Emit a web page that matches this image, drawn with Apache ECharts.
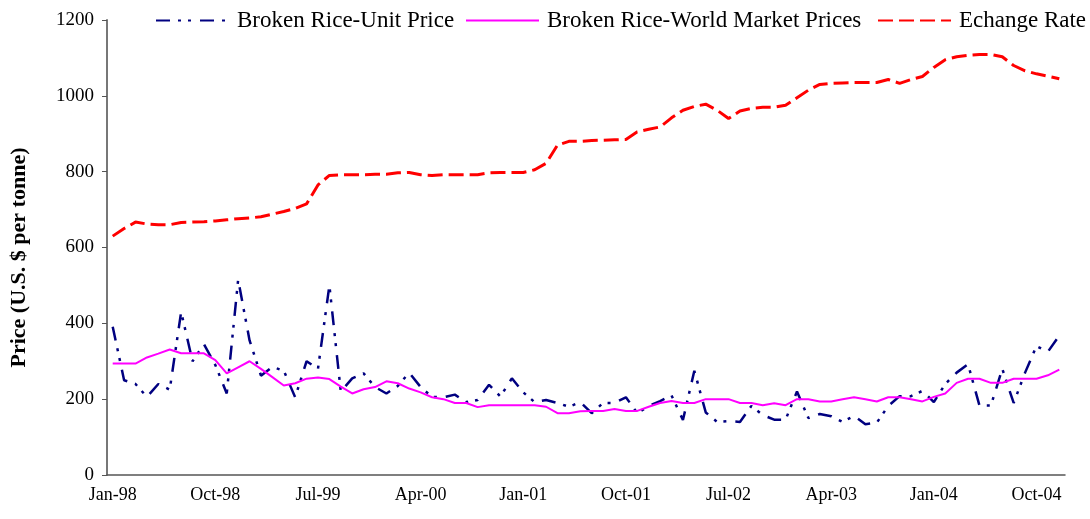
<!DOCTYPE html>
<html>
<head>
<meta charset="utf-8">
<script src="https://cdn.jsdelivr.net/npm/echarts@6/dist/echarts.min.js"></script>
<style>html,body{margin:0;padding:0;background:#fff}#c{width:1090px;height:519px}</style>
</head>
<body>
<div id="c"></div>
<script>
var months = [
 'Jan-98','Feb-98','Mar-98','Apr-98','May-98','Jun-98','Jul-98','Aug-98','Sep-98','Oct-98','Nov-98','Dec-98',
 'Jan-99','Feb-99','Mar-99','Apr-99','May-99','Jun-99','Jul-99','Aug-99','Sep-99','Oct-99','Nov-99','Dec-99',
 'Jan-00','Feb-00','Mar-00','Apr-00','May-00','Jun-00','Jul-00','Aug-00','Sep-00','Oct-00','Nov-00','Dec-00',
 'Jan-01','Feb-01','Mar-01','Apr-01','May-01','Jun-01','Jul-01','Aug-01','Sep-01','Oct-01','Nov-01','Dec-01',
 'Jan-02','Feb-02','Mar-02','Apr-02','May-02','Jun-02','Jul-02','Aug-02','Sep-02','Oct-02','Nov-02','Dec-02',
 'Jan-03','Feb-03','Mar-03','Apr-03','May-03','Jun-03','Jul-03','Aug-03','Sep-03','Oct-03','Nov-03','Dec-03',
 'Jan-04','Feb-04','Mar-04','Apr-04','May-04','Jun-04','Jul-04','Aug-04','Sep-04','Oct-04','Nov-04','Dec-04'
];
var unitPrice = [
 391,250,240,206,240,225,430,300,345,290,215,515,
 355,262,285,275,205,300,280,500,220,255,268,232,
 215,235,270,232,206,205,212,192,198,238,207,255,
 218,192,198,190,180,192,163,190,190,205,163,182,
 195,210,145,275,165,140,142,140,182,158,146,146,
 220,150,161,155,140,156,134,138,182,208,208,222,
 192,240,270,292,183,183,280,190,270,340,325,368
];
var worldPrice = [
 294,294,294,310,320,331,321,321,321,303,268,284,
 300,280,258,236,242,254,257,253,233,215,226,232,
 247,242,228,218,205,200,190,190,179,184,184,184,
 184,184,180,163,163,168,169,169,174,169,169,180,
 190,195,190,190,200,200,200,190,190,184,189,184,
 200,200,194,194,200,205,200,194,205,205,200,194,
 206,215,243,254,254,243,243,254,254,254,263,278
];
var exchangeRate = [
 630,650,667,662,660,660,666,667,668,670,673,676,
 678,681,688,695,703,715,765,790,792,792,792,793,
 793,797,798,792,790,792,792,792,792,797,798,798,
 798,805,822,870,880,880,882,883,884,885,905,912,
 918,942,962,972,978,962,940,960,967,970,970,975,
 995,1015,1030,1033,1034,1035,1035,1035,1043,1033,1043,1051,
 1075,1095,1103,1107,1109,1109,1103,1080,1066,1058,1052,1045
];
var names = ['Broken Rice-Unit Price','Broken Rice-World Market Prices','Echange Rate'];

var font = 'Liberation Serif';
function legendFor(name, left) {
  return {
    data: [name], left: left, top: 9, padding: 0, itemWidth: 73, itemHeight: 22, itemGap: 0,
    itemStyle: {color: 'rgba(0,0,0,0)', borderWidth: 0, opacity: 0},
    textStyle: {fontFamily: font, fontSize: 23, color: '#000', padding: [0, 0, 0, 3]},
    selectedMode: false
  };
}
var chart = echarts.init(document.getElementById('c'), null, {renderer: 'canvas'});
chart.setOption({
  animation: false,
  backgroundColor: '#fff',
  legend: [legendFor(names[0], 155), legendFor(names[1], 465), legendFor(names[2], 877)],
  grid: {left: 107, right: 25, top: 20, bottom: 44, containLabel: false},
  xAxis: {
    type: 'category', data: months, boundaryGap: true,
    axisLine: {lineStyle: {color: '#555', width: 1.5}},
    axisTick: {interval: 8, length: 6, lineStyle: {color: '#555'}},
    axisLabel: {interval: 8, fontFamily: font, fontSize: 18, color: '#000', margin: 11},
    splitLine: {show: false}
  },
  yAxis: {
    type: 'value', min: 0, max: 1200, interval: 200,
    name: 'Price (U.S. $ per tonne)', nameLocation: 'middle', nameGap: 77,
    nameTextStyle: {fontFamily: font, fontSize: 22, fontWeight: 'bold', color: '#000',
                    padding: [0, 20, 0, 0]},
    axisLine: {show: true, lineStyle: {color: '#777', width: 2}},
    axisTick: {show: true, length: 5, lineStyle: {color: '#555'}},
    axisLabel: {fontFamily: font, fontSize: 19, color: '#000', margin: 13,
                formatter: function (v) { return String(v); }},
    splitLine: {show: false}
  },
  series: [
    {name: names[0], type: 'line', data: unitPrice, symbol: 'none', color: '#000080',
     lineStyle: {color: '#000080', width: 2.5, type: [14, 8, 3, 7, 3, 9]}},
    {name: names[1], type: 'line', data: worldPrice, symbol: 'none', color: '#FF00FF',
     lineStyle: {color: '#FF00FF', width: 2}},
    {name: names[2], type: 'line', data: exchangeRate, symbol: 'none', color: '#FF0000',
     lineStyle: {color: '#FF0000', width: 3, type: [15, 6]}}
  ]
});
</script>
</body>
</html>
